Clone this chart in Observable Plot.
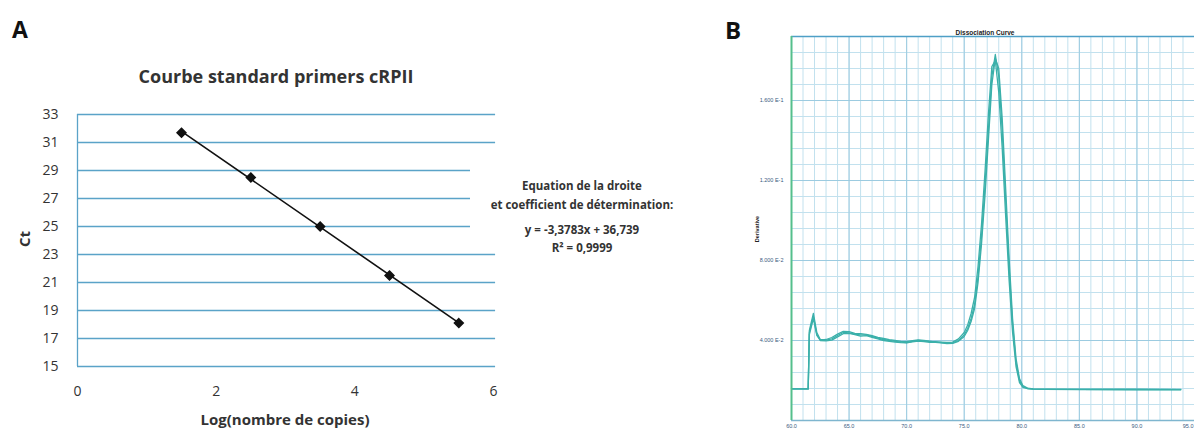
<!DOCTYPE html>
<html>
<head>
<meta charset="utf-8">
<script src="https://cdn.jsdelivr.net/npm/d3@7"></script>
<script src="https://cdn.jsdelivr.net/npm/@observablehq/plot@0.6"></script>
<style>
  html, body { margin: 0; padding: 0; background: #fff; }
  #wrap { position: relative; width: 1194px; height: 434px; overflow: hidden; background: #fff; font-family: "Open Sans", Lato, sans-serif; }
  .abs { position: absolute; white-space: nowrap; }
  .panel { position: absolute; top: 0; }
</style>
</head>
<body>
<div id="wrap">
  <div id="plotA" class="panel" style="left:0px"></div>
  <div id="plotB" class="panel" style="left:720px"></div>
  <div class="abs" style="left:12px; top:13px; font-size:23px; font-weight:700; color:#111;">A</div>
  <div class="abs" style="left:725px; top:13px; font-size:24px; font-weight:700; color:#111;">B</div>
  <div class="abs" style="left:76px; top:64px; width:400px; text-align:center; font-size:18px; font-weight:700; color:#333;">Courbe standard primers cRPII</div>
  <div class="abs" style="left:135px; top:409px; width:300px; text-align:center; font-size:15px; font-weight:700; color:#333;">Log(nombre de copies)</div>
  <div class="abs" style="left:4px; top:229px; width:40px; text-align:center; font-size:15px; font-weight:700; color:#333; transform:rotate(-90deg);">Ct</div>
  <div class="abs" style="left:470px; top:150px; width:224px; height:96px; background:#fff; text-align:center; font-size:11.5px; font-weight:700; color:#333; line-height:19px;">
    <div style="margin-top:26px">Equation de la droite</div>
    <div>et coefficient de détermination:</div>
    <div style="margin-top:6px">y = -3,3783x + 36,739</div>
    <div style="line-height:17px">R² = 0,9999</div>
  </div>
  <div class="abs" style="left:905px; top:29px; width:160px; text-align:center; font-size:6.5px; font-weight:700; color:#222; font-family:'Liberation Sans', sans-serif;">Dissociation Curve</div>
  <div class="abs" style="left:737px; top:226px; width:40px; text-align:center; font-size:5.5px; font-weight:700; color:#222; transform:rotate(-90deg); font-family:'Liberation Sans', sans-serif;">Derivative</div>
</div>
<script>
// ---------- Panel A data ----------
const logCopies = [1.5, 2.5, 3.5, 4.5, 5.5];
const ctValues  = [31.7, 28.5, 25.0, 21.5, 18.1];
const yTicksA   = [15, 17, 19, 21, 23, 25, 27, 29, 31, 33];
const xTicksA   = [0, 2, 4, 6];

// ---------- Panel B data (dissociation curve, 3 replicates) ----------
const tempC = [60.0, 61.45, 61.55, 61.9, 62.2, 62.5, 63.0, 63.5, 64.0, 64.5, 65.0, 65.5, 66.0, 66.5, 67.0, 67.5, 68.0, 68.5, 69.0, 69.5, 70.0, 70.5, 71.0, 71.5, 72.0, 72.5, 73.0, 73.5, 74.0, 74.5, 75.0, 75.3, 75.6, 75.9, 76.2, 76.5, 76.8, 77.1, 77.4, 77.7, 78.0, 78.3, 78.6, 78.9, 79.2, 79.5, 79.8, 80.1, 80.5, 81.0, 82.0, 85.0, 90.0, 93.8];
const derivRep1 = [0.0158, 0.0158, 0.0450, 0.0536, 0.0440, 0.0405, 0.0402, 0.0408, 0.0425, 0.0440, 0.0438, 0.0432, 0.0428, 0.0428, 0.0420, 0.0412, 0.0405, 0.0400, 0.0396, 0.0392, 0.0390, 0.0396, 0.0400, 0.0398, 0.0394, 0.0394, 0.0390, 0.0387, 0.0388, 0.0400, 0.0428, 0.0460, 0.0510, 0.0580, 0.0720, 0.0920, 0.1170, 0.1450, 0.1720, 0.1830, 0.1720, 0.1450, 0.1100, 0.0760, 0.0480, 0.0290, 0.0200, 0.0170, 0.0160, 0.0157, 0.0156, 0.0156, 0.0155, 0.0154];
const derivRep2 = [0.0158, 0.0158, 0.0440, 0.0520, 0.0430, 0.0402, 0.0405, 0.0415, 0.0432, 0.0446, 0.0444, 0.0436, 0.0434, 0.0431, 0.0424, 0.0416, 0.0410, 0.0404, 0.0400, 0.0396, 0.0394, 0.0399, 0.0403, 0.0400, 0.0397, 0.0392, 0.0392, 0.0390, 0.0392, 0.0408, 0.0440, 0.0478, 0.0535, 0.0615, 0.0770, 0.0980, 0.1240, 0.1530, 0.1770, 0.1800, 0.1640, 0.1360, 0.1020, 0.0700, 0.0440, 0.0270, 0.0190, 0.0166, 0.0159, 0.0157, 0.0156, 0.0155, 0.0155, 0.0154];
const derivRep3 = [0.0158, 0.0158, 0.0430, 0.0510, 0.0425, 0.0400, 0.0398, 0.0402, 0.0418, 0.0434, 0.0436, 0.0430, 0.0422, 0.0424, 0.0416, 0.0408, 0.0400, 0.0396, 0.0392, 0.0389, 0.0388, 0.0393, 0.0397, 0.0395, 0.0391, 0.0391, 0.0388, 0.0385, 0.0386, 0.0396, 0.0420, 0.0450, 0.0495, 0.0560, 0.0690, 0.0880, 0.1120, 0.1400, 0.1680, 0.1810, 0.1760, 0.1510, 0.1160, 0.0810, 0.0510, 0.0310, 0.0210, 0.0174, 0.0162, 0.0158, 0.0157, 0.0156, 0.0155, 0.0155];
const yTicksB = [0.04, 0.08, 0.12, 0.16];
const yTickLabelsB = ["4.000 E-2", "8.000 E-2", "1.200 E-1", "1.600 E-1"];
const xTicksB = [60, 65, 70, 75, 80, 85, 90, 95];
const xTickLabelsB = ["60.0", "65.0", "70.0", "75.0", "80.0", "85.0", "90.0", "95.0"];

// ---------- Panel A ----------
const stdData = logCopies.map((x, i) => ({x, ct: ctValues[i]}));
const gridBlue = "#5aa3c8";
const plotA = Plot.plot({
  width: 510, height: 434,
  marginLeft: 77, marginRight: 17, marginTop: 114, marginBottom: 68,
  style: {fontFamily: "'Open Sans', Lato, sans-serif", background: "transparent", overflow: "visible"},
  x: {domain: [0, 6]},
  y: {domain: [15, 33]},
  marks: [
    Plot.ruleY(yTicksA, {y: d => d, x1: 0, x2: 6.03, stroke: gridBlue, strokeWidth: 1.3}),
    Plot.ruleX([0], {y1: 15, y2: 33, stroke: gridBlue, strokeWidth: 1.3}),
    Plot.linearRegressionY(stdData, {x: "x", y: "ct", stroke: "#111", strokeWidth: 1.6, ci: 0}),
    Plot.dot(stdData, {x: "x", y: "ct", symbol: "diamond2", fill: "#111", stroke: "#111", r: 4}),
    Plot.axisY(yTicksA, {tickSize: 0, tickPadding: 19, fontSize: 14, fill: "#333", label: null}),
    Plot.axisX(xTicksA, {tickSize: 0, tickPadding: 20, fontSize: 14, fill: "#333", label: null})
  ]
});
document.getElementById("plotA").appendChild(plotA);

// ---------- Panel B ----------
const curveData = [];
[derivRep1, derivRep2, derivRep3].forEach((arr, k) => {
  arr.forEach((v, i) => curveData.push({t: tempC[i], d: v, rep: "r" + k}));
});
const minorX = d3.range(60, 96, 1);
const minorY = d3.range(0, 0.1921, 0.008);
const lastIdx = xTicksB.length - 1;
const plotB = Plot.plot({
  width: 474, height: 434,
  marginLeft: 71, marginRight: 0, marginTop: 36, marginBottom: 14,
  style: {fontFamily: "'Liberation Sans', sans-serif", background: "transparent", overflow: "visible"},
  x: {domain: [60, 95]},
  y: {domain: [0, 0.192]},
  marks: [
    Plot.ruleX(minorX, {x: d => d, stroke: "#c2e1ee", strokeWidth: 1}),
    Plot.ruleY(minorY, {y: d => d, stroke: "#c2e1ee", strokeWidth: 1}),
    Plot.ruleX(xTicksB, {x: d => d, stroke: "#9ccbe0", strokeWidth: 1}),
    Plot.ruleY(yTicksB, {y: d => d, stroke: "#9ccbe0", strokeWidth: 1}),
    Plot.ruleY([0.192], {stroke: "#4e9fc6", strokeWidth: 1.5}),
    Plot.ruleY([0], {stroke: "#7fb6cf", strokeWidth: 1.5}),
    Plot.line(curveData, {x: "t", y: "d", z: "rep", stroke: "#3bb0aa", strokeWidth: 1.3, curve: "linear"}),
    Plot.ruleX([60], {stroke: "#55bf8c", strokeWidth: 2}),
    Plot.axisY(yTicksB, {tickSize: 0, tickPadding: 8, fontSize: 5.5, fill: "#3a5a80", tickFormat: (d, i) => yTickLabelsB[i], label: null}),
    Plot.axisX(xTicksB.slice(0, lastIdx), {tickSize: 0, tickPadding: 4, fontSize: 5.5, fill: "#3a5a80", tickFormat: (d, i) => xTickLabelsB[i], label: null}),
    Plot.axisX(xTicksB.slice(lastIdx), {tickSize: 0, tickPadding: 4, fontSize: 5.5, fill: "#3a5a80", textAnchor: "end", dx: -1, tickFormat: () => xTickLabelsB[lastIdx], label: null})
  ]
});
document.getElementById("plotB").appendChild(plotB);
</script>
</body>
</html>
